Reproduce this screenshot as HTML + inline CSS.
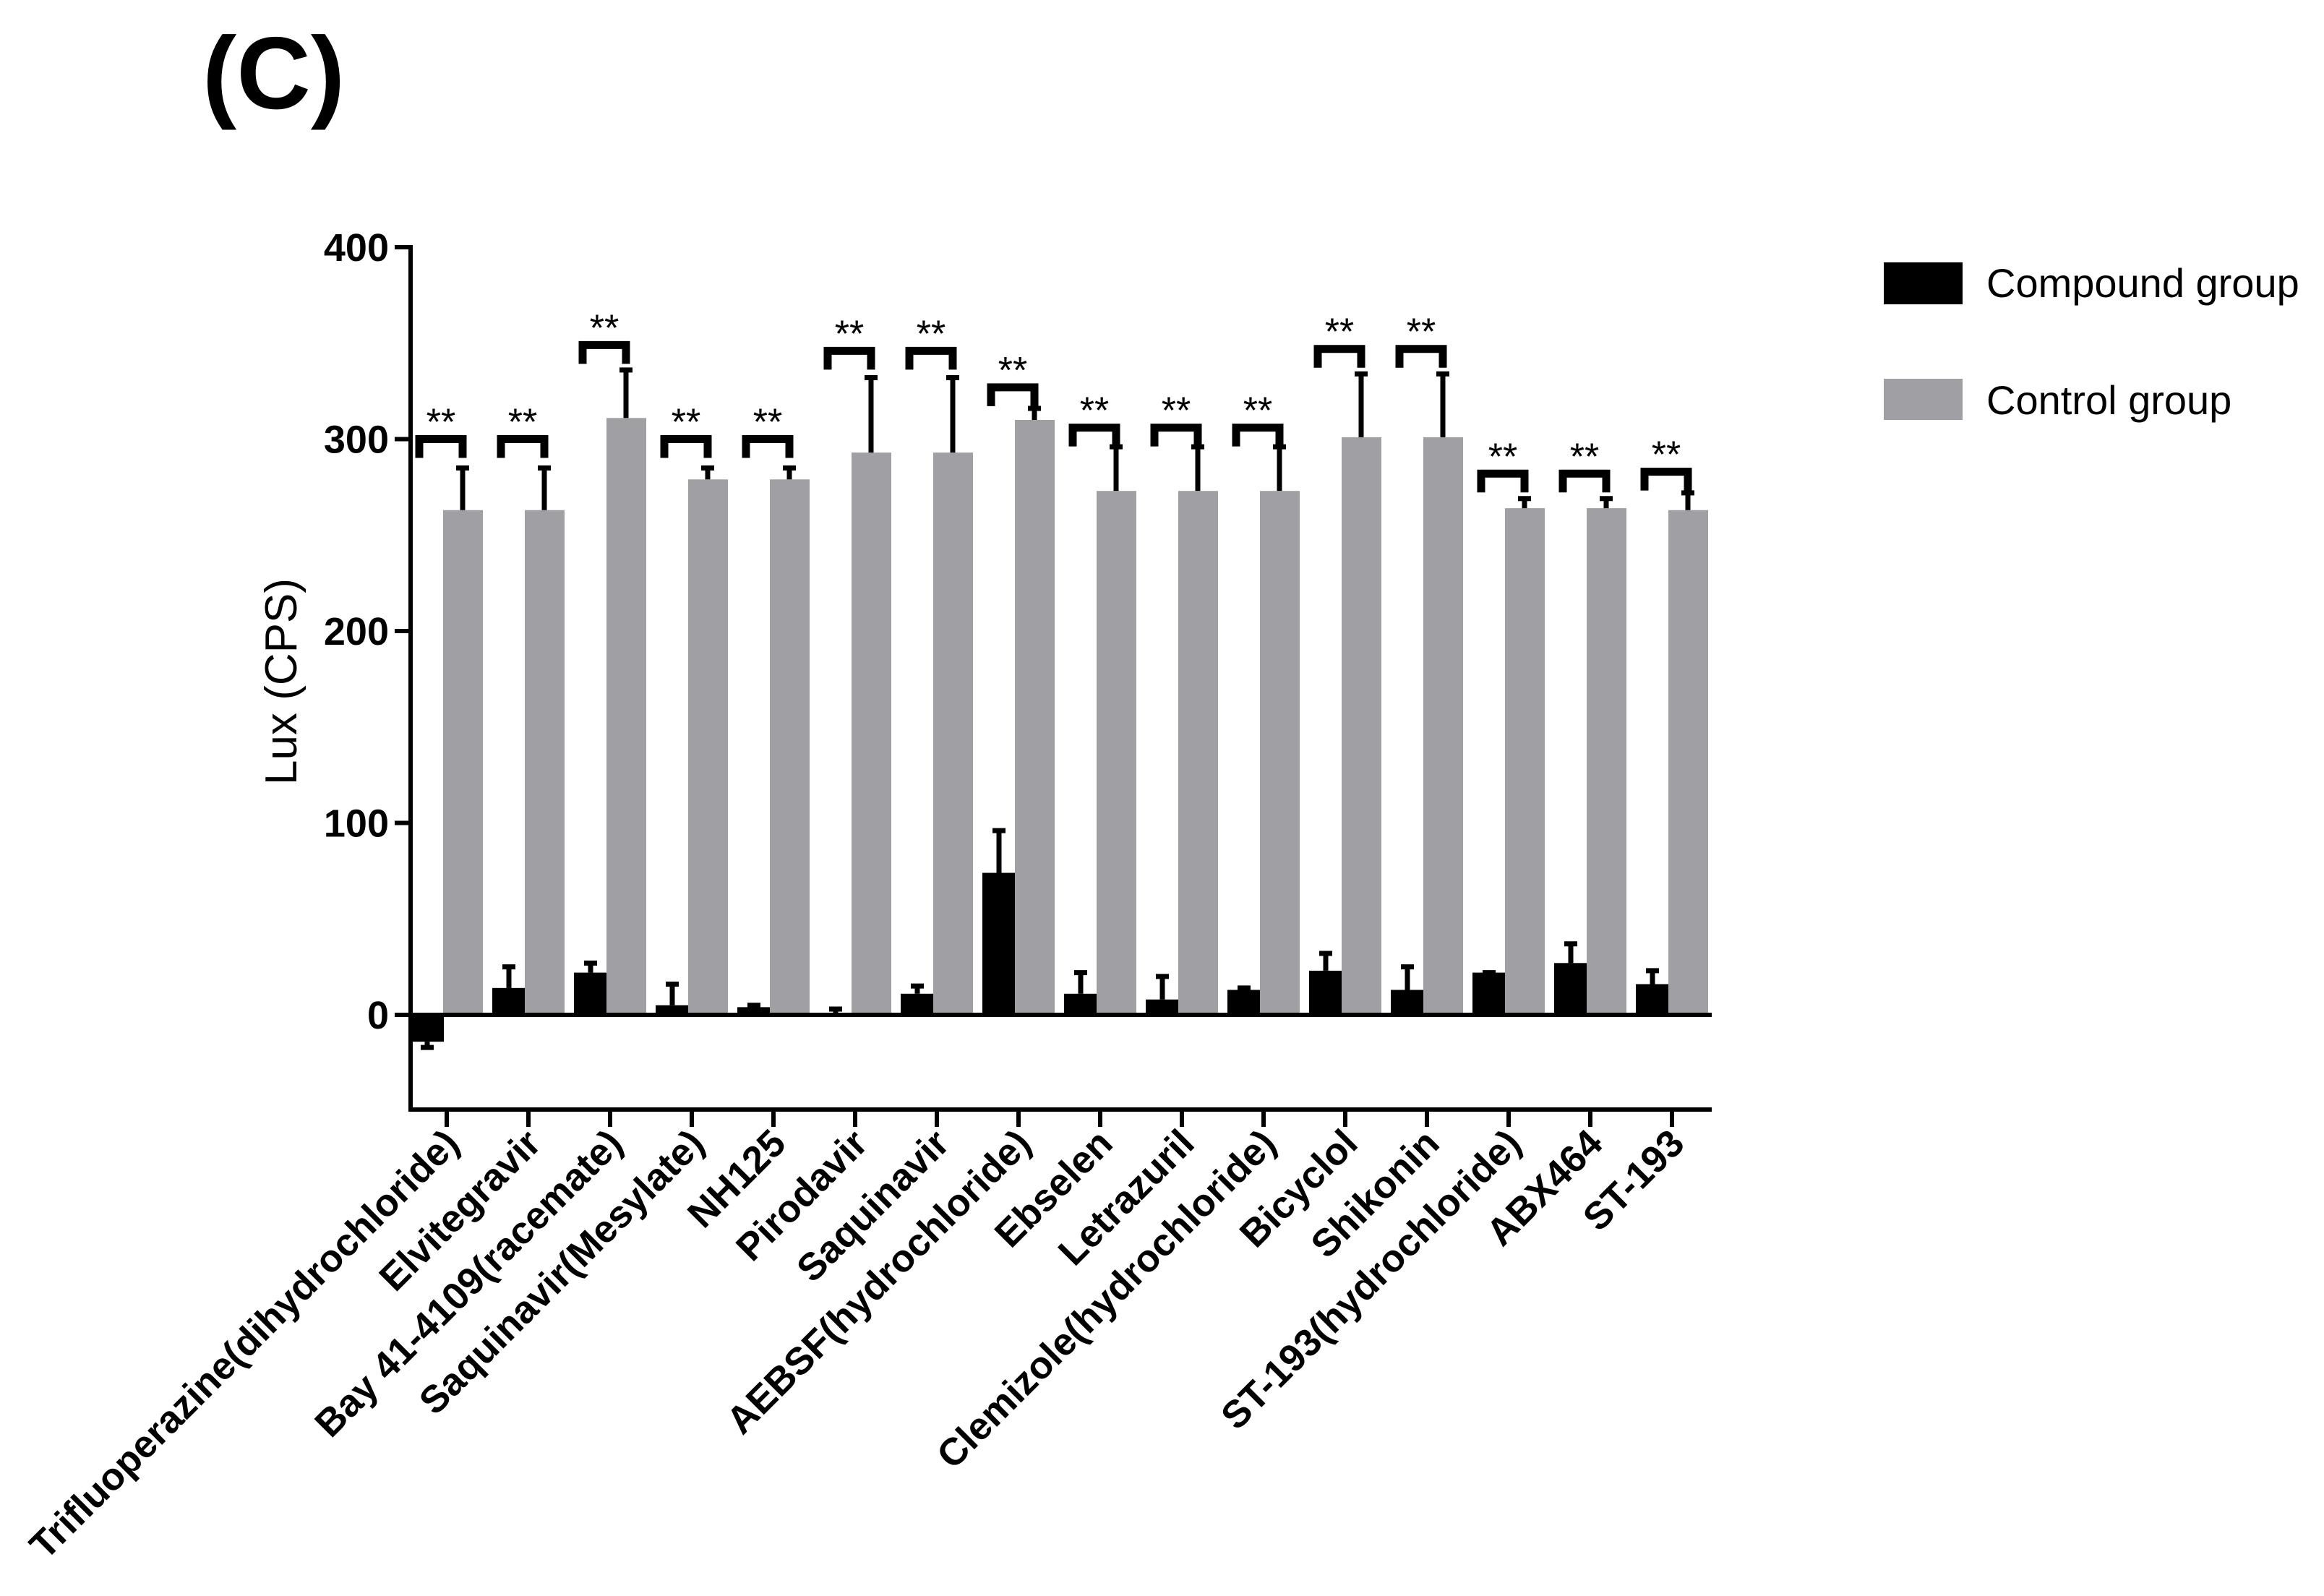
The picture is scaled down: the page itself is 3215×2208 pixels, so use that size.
<!DOCTYPE html>
<html><head><meta charset="utf-8"><style>
html,body{margin:0;padding:0;background:#fff;}
svg{display:block;font-family:"Liberation Sans",Arial,sans-serif;}
</style></head><body>
<svg id="chart" width="3215" height="2208" viewBox="0 0 3215 2208">
<text x="280" y="150" font-size="142" font-weight="bold">(C)</text>
<text transform="translate(410,943) rotate(-90)" text-anchor="middle" font-size="62">Lux (CPS)</text>
<g id="legend">
<rect x="2606" y="363" width="109" height="58" fill="#000"/>
<text x="2748" y="411" font-size="56">Compound group</text>
<rect x="2606" y="524" width="109" height="57" fill="#a0a0a4"/>
<text x="2748" y="573" font-size="56">Control group</text>
</g>
<g id="plot"></g>
</svg>
<script>
const categories = ["Trifluoperazine(dihydrochloride)","Elvitegravir","Bay 41-4109(racemate)","Saquinavir(Mesylate)","NH125","Pirodavir","Saquinavir","AEBSF(hydrochloride)","Ebselen","Letrazuril","Clemizole(hydrochloride)","Bicyclol","Shikonin","ST-193(hydrochloride)","ABX464","ST-193"];
const compoundValues = [-14,14,22,5,4,0,11,74,11,8,13,23,13,22,27,16];
const compoundErrTop = [-17,25,27,16,5,3,15,96,22,20,14,32,25,22,37,23];
const controlValues = [263,263,311,279,279,293,293,310,273,273,273,301,301,264,264,263];
const controlErrTop = [285,285,336,285,285,332,332,316,296,296,296,334,334,269,269,272];
const bracketValues = [300,300,349,300,300,346,346,327,306,306,306,347,347,282,282,283];
const yTicks = [0,100,200,300,400];

const NS="http://www.w3.org/2000/svg";
const plot=document.getElementById('plot');
const y0px=1404, pxPer=2.655, axisX=568, axisBottom=1535, axisRight=2368;
const yScale=v=>y0px-v*pxPer;
const xTick=i=>618+i*113;
function mk(tag,attrs){const e=document.createElementNS(NS,tag);for(const k in attrs)e.setAttribute(k,attrs[k]);plot.appendChild(e);return e;}

categories.forEach((c,i)=>{
  const t=xTick(i);
  const bv=compoundValues[i];
  const b=mk('rect',{x:t-50,y:Math.min(yScale(bv),y0px),width:46,height:Math.max(Math.abs(yScale(bv)-y0px),3),fill:'#000'});
  
  
  const cx=t-27;
  const eb=mk('path',{d:`M${cx} ${yScale(bv)} V${yScale(compoundErrTop[i])} M${cx-9} ${yScale(compoundErrTop[i])} H${cx+9}`,stroke:'#000','stroke-width':7,fill:'none'});
  
  
  const cv=controlValues[i];
  const g=mk('rect',{x:t-5,y:yScale(cv),width:55,height:y0px-yScale(cv),fill:'#a0a0a4'});
  
  
  const gx=t+22;
  const e2=mk('path',{d:`M${gx} ${yScale(cv)} V${yScale(controlErrTop[i])} M${gx-9} ${yScale(controlErrTop[i])} H${gx+9}`,stroke:'#000','stroke-width':7,fill:'none'});
  
  
  const by=yScale(bracketValues[i]);
  const br=mk('path',{d:`M${t-38} ${by+26} V${by} H${t+22} V${by+26}`,stroke:'#000','stroke-width':11,fill:'none'});
  
  
  const st=mk('text',{x:t-8,y:by-6,'text-anchor':'middle','font-size':52});
  st.textContent='**';
  
  
  const tk=mk('line',{x1:t,x2:t,y1:axisBottom,y2:axisBottom+24,stroke:'#000','stroke-width':6});
  
  
  const lb=mk('text',{transform:`translate(${t+20},${axisBottom+50}) rotate(-45)`,'text-anchor':'end','font-size':53,'font-weight':'bold'});
  lb.textContent=c;
  
  
});
const za=mk('line',{x1:axisX,x2:axisRight,y1:y0px,y2:y0px,stroke:'#000','stroke-width':6});


const xa=mk('line',{x1:axisX,x2:axisRight,y1:axisBottom,y2:axisBottom,stroke:'#000','stroke-width':6});


const ya=mk('line',{x1:axisX,x2:axisX,y1:yScale(400)-3,y2:axisBottom+3,stroke:'#000','stroke-width':6});


yTicks.forEach(v=>{
  const tl=mk('line',{x1:axisX-22,x2:axisX,y1:yScale(v),y2:yScale(v),stroke:'#000','stroke-width':6});
  
  
  const tx=mk('text',{x:axisX-30,y:yScale(v)+19,'text-anchor':'end','font-size':54,'font-weight':'bold'});
  tx.textContent=v;
  
  
});
</script>
</body></html>
